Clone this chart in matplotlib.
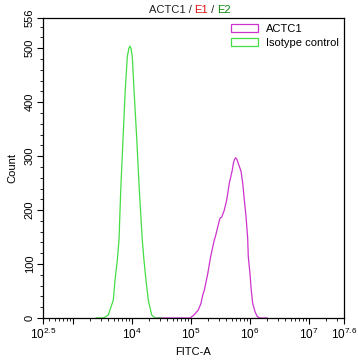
import numpy as np
import matplotlib
matplotlib.use("Agg")
import matplotlib.pyplot as plt
from matplotlib.patches import Patch

plt.rcParams['font.family'] = ['Liberation Sans', 'DejaVu Sans']
plt.rcParams['mathtext.fontset'] = 'custom'
plt.rcParams['mathtext.rm'] = 'Liberation Sans'
plt.rcParams['mathtext.it'] = 'Liberation Sans'

# histogram traces (x as log10 of FITC-A, y as count)
iso_log = [3.40, 3.522, 3.606, 3.691, 3.720, 3.759, 3.788, 3.817, 3.855, 3.894, 3.928,
           3.955, 3.974, 3.992, 4.013, 4.042, 4.088, 4.132, 4.182, 4.211, 4.245, 4.284,
           4.342, 4.398, 4.50]
iso_cnt = [0, 0, 5.6, 33, 70, 107, 145, 237, 330, 423, 484,
           500, 504, 499, 484, 423, 333, 237, 145, 107, 70, 33,
           5.6, 0, 0]

actc_log = [4.40, 4.991, 5.058, 5.131, 5.177, 5.206, 5.233, 5.291, 5.341, 5.402, 5.414,
            5.482, 5.499, 5.528, 5.572, 5.613, 5.657, 5.707, 5.724, 5.745, 5.765, 5.785,
            5.804, 5.855, 5.884, 5.911, 5.940, 5.968, 5.978, 6.007, 6.029, 6.053, 6.092,
            6.131, 6.177, 6.30]
actc_cnt = [0, 0, 5.6, 14.8, 27.2, 42.6, 51.3, 82, 114, 144.5, 148,
            178, 185, 187, 200, 219, 250, 274, 286, 294, 297, 294,
            288, 272, 250, 219, 188, 148, 114, 82, 51.3, 27, 11.7,
            2.5, 0, 0]

xtick_pos = [2.5, 3, 4, 5, 6, 7, 7.6]
xtick_lab = ['$10^{2.5}$', '', '$10^4$', '$10^5$', '$10^6$', '$10^7$', '$10^{7.6}$']
ytick_pos = [0, 100, 200, 300, 400, 500, 556]

c_actc = '#cc33cc'
c_iso = '#44dd44'

fig = plt.figure(figsize=(3.58, 3.61), dpi=100)
ax = fig.add_axes([43 / 358, 43 / 361, 301 / 358, 300 / 361])

ax.plot(10 ** np.array(actc_log), actc_cnt, color=c_actc, lw=0.9)
ax.plot(10 ** np.array(iso_log), iso_cnt, color=c_iso, lw=0.9)

ax.set_xscale('log')
ax.set_xlim(10 ** 2.5, 10 ** 7.6)
ax.set_ylim(0, 556)

ax.set_xticks([10 ** v for v in xtick_pos])
ax.set_xticklabels(xtick_lab, fontsize=8.5)
minor = [k * 10 ** d for d in range(2, 8) for k in range(2, 10)
         if 10 ** 2.5 < k * 10 ** d < 10 ** 7.6]
ax.set_xticks(minor, minor=True)
ax.set_xticklabels([], minor=True)

ax.set_yticks(ytick_pos)
ax.set_yticklabels([str(v) for v in ytick_pos], fontsize=8, rotation=90, va='center')
ax.set_yticks(np.arange(20, 556, 20), minor=True)

ax.tick_params(which='major', length=4, width=0.8, direction='out', pad=2)
ax.tick_params(which='minor', length=2, width=0.6, direction='out')
for s in ax.spines.values():
    s.set_linewidth(0.9)

ax.set_xlabel('FITC-A', fontsize=8, labelpad=4)
ax.set_ylabel('Count', fontsize=8, labelpad=5)

# multi-coloured title, pieces chained left to right
t1 = fig.text(0.415, 0.972, 'ACTC1 / ', fontsize=8, ha='left', va='center', color='#222222')
t2 = ax.annotate('E1', xy=(1, 0), xycoords=t1, va='bottom', ha='left', fontsize=8,
                 color='#dd1111', annotation_clip=False)
t3 = ax.annotate(' / ', xy=(1, 0), xycoords=t2, va='bottom', ha='left', fontsize=8,
                 color='#222222', annotation_clip=False)
ax.annotate('E2', xy=(1, 0), xycoords=t3, va='bottom', ha='left', fontsize=8,
            color='#118811', annotation_clip=False)

handles = [Patch(facecolor='none', edgecolor=c_actc, lw=0.9, label='ACTC1'),
           Patch(facecolor='none', edgecolor=c_iso, lw=0.9, label='Isotype control')]
ax.legend(handles=handles, loc='upper right', frameon=False, fontsize=8,
          handlelength=2.4, handleheight=0.8, handletextpad=0.7, labelspacing=0.35,
          borderaxespad=0.1, bbox_to_anchor=(1.0, 1.0))

fig.savefig('out.png', dpi=100)
